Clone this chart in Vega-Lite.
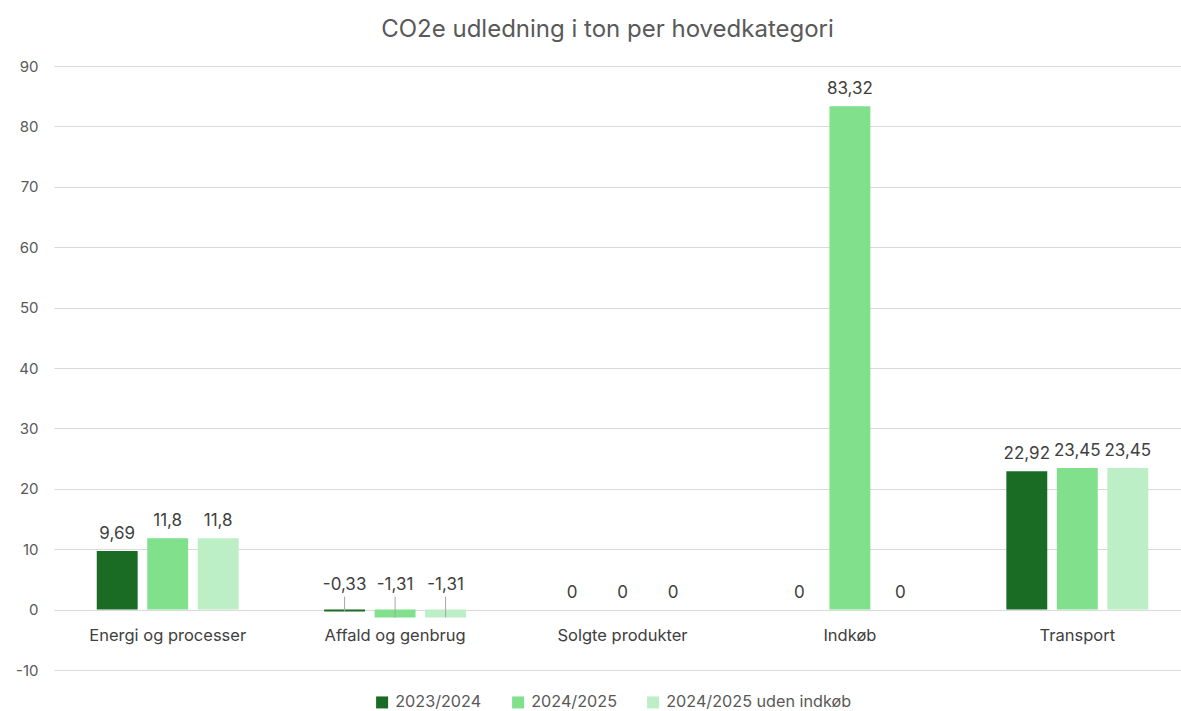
{
  "$schema": "https://vega.github.io/schema/vega-lite/v6.json",
  "width": 1137,
  "height": 604,
  "autosize": {"type": "none"},
  "padding": {"left": 54, "top": 66, "right": 0, "bottom": 41},
  "background": "white",
  "title": {"text": "CO2e udledning i ton per hovedkategori", "fontSize": 24, "fontWeight": "normal", "color": "#595959", "anchor": "middle", "dx": -15, "offset": 17},
  "data": {"values": [
    {"kategori": "Energi og processer", "serie": "2023/2024", "v": 9.69},
    {"kategori": "Energi og processer", "serie": "2024/2025", "v": 11.8},
    {"kategori": "Energi og processer", "serie": "2024/2025 uden indkøb", "v": 11.8},
    {"kategori": "Affald og genbrug", "serie": "2023/2024", "v": -0.33},
    {"kategori": "Affald og genbrug", "serie": "2024/2025", "v": -1.31},
    {"kategori": "Affald og genbrug", "serie": "2024/2025 uden indkøb", "v": -1.31},
    {"kategori": "Solgte produkter", "serie": "2023/2024", "v": 0},
    {"kategori": "Solgte produkter", "serie": "2024/2025", "v": 0},
    {"kategori": "Solgte produkter", "serie": "2024/2025 uden indkøb", "v": 0},
    {"kategori": "Indkøb", "serie": "2023/2024", "v": 0},
    {"kategori": "Indkøb", "serie": "2024/2025", "v": 83.32},
    {"kategori": "Indkøb", "serie": "2024/2025 uden indkøb", "v": 0},
    {"kategori": "Transport", "serie": "2023/2024", "v": 22.92},
    {"kategori": "Transport", "serie": "2024/2025", "v": 23.45},
    {"kategori": "Transport", "serie": "2024/2025 uden indkøb", "v": 23.45}
  ]},
  "encoding": {
    "x": {"field": "kategori", "type": "nominal", "sort": null,
      "scale": {"paddingInner": 0.376, "paddingOuter": 0.188},
      "axis": {"title": null, "orient": "bottom", "offset": -60, "domain": false, "ticks": false, "labelAngle": 0, "labelPadding": 17, "labelFontSize": 16.5, "labelColor": "#404040"}},
    "xOffset": {"field": "serie", "type": "nominal", "sort": null, "scale": {"paddingInner": 0.19}}
  },
  "layer": [
    {
      "mark": {"type": "bar"},
      "encoding": {
        "y": {"field": "v", "type": "quantitative",
          "scale": {"domain": [-10, 90], "nice": false, "zero": false},
          "axis": {"title": null, "values": [-10, 0, 10, 20, 30, 40, 50, 60, 70, 80, 90], "domain": false, "ticks": false, "grid": true, "gridColor": "#d9d9d9", "labelPadding": 16, "labelFontSize": 15, "labelColor": "#595959"}},
        "color": {"field": "serie", "type": "nominal",
          "scale": {"domain": ["2023/2024", "2024/2025", "2024/2025 uden indkøb"], "range": ["#1a6b24", "#80e08c", "#bcefc6"]},
          "legend": {"title": null, "orient": "none", "legendX": 320, "legendY": 628, "direction": "horizontal", "symbolType": "square", "symbolSize": 144, "symbolStrokeWidth": 0, "labelFontSize": 16.2, "labelLimit": 400, "labelColor": "#595959", "columnPadding": 28, "labelOffset": 5}}
      }
    },
    {
      "transform": [{"filter": "datum.v < 0"}],
      "mark": {"type": "rule", "color": "#a6a6a6", "strokeWidth": 1},
      "encoding": {
        "y": {"field": "v", "type": "quantitative"},
        "y2": {"datum": 2.15}
      }
    },
    {
      "transform": [{"filter": "datum.v >= 0"}],
      "mark": {"type": "text", "baseline": "alphabetic", "dy": -12, "fontSize": 17, "color": "#404040"},
      "encoding": {
        "y": {"field": "v", "type": "quantitative"},
        "text": {"field": "v", "type": "quantitative", "format": ".2~f"}
      }
    },
    {
      "transform": [{"filter": "datum.v < 0"}],
      "mark": {"type": "text", "baseline": "alphabetic", "dy": -20, "fontSize": 17, "color": "#404040"},
      "encoding": {
        "y": {"datum": 0, "type": "quantitative"},
        "text": {"field": "v", "type": "quantitative", "format": ".2~f"}
      }
    }
  ],
  "config": {
    "font": "Inter",
    "view": {"stroke": null},
    "locale": {"number": {"decimal": ",", "thousands": ".", "grouping": [3], "currency": ["", " kr."], "minus": "-"}}
  }
}
